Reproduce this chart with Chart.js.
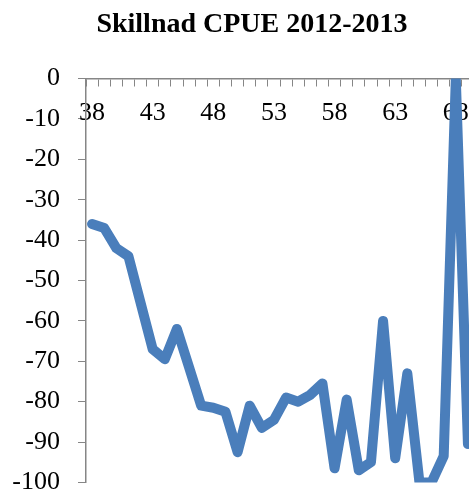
<!DOCTYPE html>
<html>
<head>
<meta charset="utf-8">
<script src="https://cdn.jsdelivr.net/npm/chart.js@4"></script>
<style>
  html, body { margin: 0; padding: 0; overflow: hidden; background: #fff; }
</style>
</head>
<body>
<canvas id="cpueChart" width="504" height="516"></canvas>
<script>
// Data
const lengths = ['38', '39', '40', '41', '42', '43', '44', '45', '46', '47', '48', '49', '50', '51', '52', '53',
                 '54', '55', '56', '57', '58', '59', '60', '61', '62', '63', '64', '65', '66', '67', '68', '69'];
const diffCpue = [-36, -37, -42, -44, -55.5, -67, -69.5, -62, -71.5, -81, -81.5, -82.5, -92.5, -81, -86.5, -84.5,
                  -79, -80, -78.3, -75.5, -96.5, -79.5, -97, -95, -60, -94, -73, -100, -100, -93.5, 0, -90.5];
const yMin = -100;
const yMax = 0;
const yStep = 10;
const labelEvery = 5;

const axisGrey = '#868686';
const labelFont = { family: "'Liberation Serif', 'Times New Roman', serif", size: 26 };

document.addEventListener('DOMContentLoaded', function () {
    const ctx = document.getElementById('cpueChart').getContext('2d');

    new Chart(ctx, {
        type: 'line',
        data: {
            labels: lengths,
            datasets: [{
                data: diffCpue,
                borderColor: '#4a7ebb',
                borderWidth: 10,
                borderJoinStyle: 'round',
                borderCapStyle: 'round',
                pointRadius: 0,
                tension: 0,
                clip: 0
            }]
        },
        options: {
            responsive: false,
            animation: false,
            scales: {
                x: {
                    type: 'category',
                    position: { y: 0 },
                    offset: true,
                    grid: {
                        offset: true,
                        drawOnChartArea: false,
                        tickLength: 7,
                        color: axisGrey
                    },
                    border: { color: axisGrey, width: 1.5 },
                    ticks: {
                        autoSkip: false,
                        maxRotation: 0,
                        padding: 12,
                        color: '#000',
                        font: labelFont,
                        callback: (v, i) => (i % labelEvery === 0 ? lengths[i] : '')
                    }
                },
                y: {
                    min: yMin,
                    max: yMax,
                    afterFit: scale => { scale.width = 86; },
                    grid: {
                        drawOnChartArea: false,
                        tickLength: 8,
                        color: axisGrey
                    },
                    border: { color: axisGrey, width: 1.5 },
                    ticks: {
                        stepSize: yStep,
                        padding: 18,
                        color: '#000',
                        font: labelFont
                    }
                },
                // empty strip on the right so the title stays centred on the whole canvas
                spacer: {
                    type: 'linear',
                    position: 'right',
                    afterFit: scale => { scale.width = 30; },
                    grid: { display: false },
                    border: { display: false },
                    ticks: { display: false }
                }
            },
            plugins: {
                legend: { display: false },
                tooltip: { enabled: false },
                title: {
                    display: true,
                    text: 'Skillnad CPUE 2012-2013',
                    color: '#000',
                    font: {
                        family: "'Liberation Serif', 'Times New Roman', serif",
                        size: 28,
                        weight: 'bold'
                    },
                    padding: { top: 8, bottom: 37 }
                }
            }
        }
    });
});
</script>
</body>
</html>
